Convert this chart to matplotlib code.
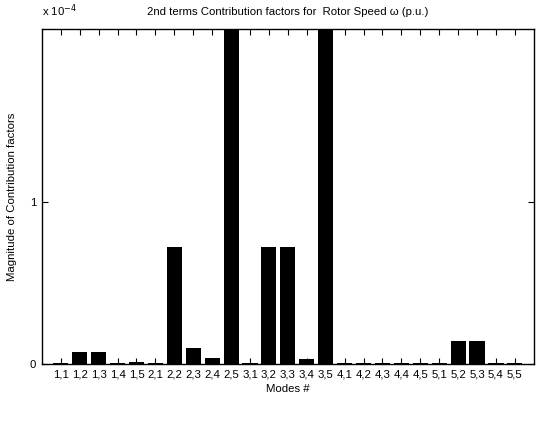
import numpy as np
import matplotlib
matplotlib.use('Agg')
import matplotlib.pyplot as plt

plt.rcParams['font.family'] = ['Liberation Sans', 'DejaVu Sans']

modes = ['1,1', '1,2', '1,3', '1,4', '1,5',
         '2,1', '2,2', '2,3', '2,4', '2,5',
         '3,1', '3,2', '3,3', '3,4', '3,5',
         '4,1', '4,2', '4,3', '4,4', '4,5',
         '5,1', '5,2', '5,3', '5,4', '5,5']
# magnitudes in units of 1e-4
contrib = [0.005, 0.075, 0.075, 0.005, 0.01,
           0.005, 0.72, 0.10, 0.033, 2.07,
           0.005, 0.72, 0.72, 0.03, 2.07,
           0.004, 0.004, 0.004, 0.004, 0.004,
           0.005, 0.14, 0.14, 0.005, 0.005]

vals = np.array(contrib) * 1e-4
x = np.arange(1, len(modes) + 1)
fs = 8.2

fig = plt.figure(figsize=(5.37, 4.26), dpi=100)
ax = fig.add_axes([0.078, 0.146, 0.916, 0.786])
ax.bar(x, vals, width=0.8, color='black', zorder=1)
ax.set_xlim(0, 26)
ax.set_ylim(0, vals.max())
ax.set_xticks(x)
ax.set_xticklabels(modes, fontsize=fs)
ax.set_yticks([0, 1e-4])
ax.set_yticklabels(['0', '1'], fontsize=fs)
ax.tick_params(direction='in', length=4, width=0.8, top=True, right=True, pad=4)
for s in ax.spines.values():
    s.set_linewidth(1.0)
ax.set_axisbelow(False)
ax.set_xlabel('Modes #', fontsize=fs, labelpad=3)
ax.set_ylabel('Magnitude of Contribution factors', fontsize=fs, labelpad=9)
ax.set_title('2nd terms Contribution factors for  Rotor Speed \u03c9 (p.u.)', fontsize=fs, pad=10)
ax.text(0.0, 1.03, 'x 10$^{-4}$', transform=ax.transAxes, fontsize=fs, ha='left', va='bottom')

fig.savefig('out.png', dpi=100)
